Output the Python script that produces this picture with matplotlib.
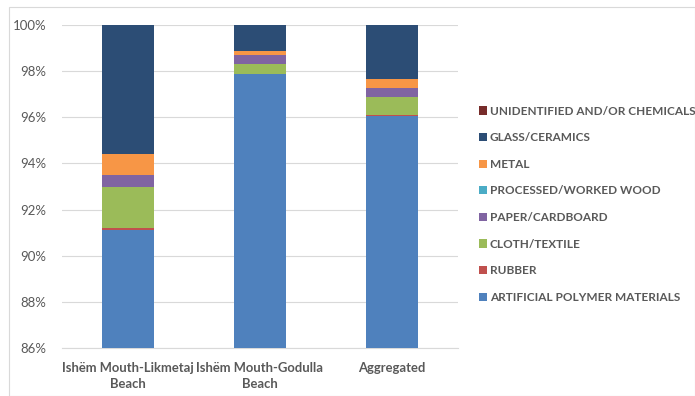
import matplotlib
matplotlib.use("Agg")
import matplotlib.pyplot as plt
from matplotlib.patches import Rectangle
from matplotlib.ticker import FuncFormatter
import numpy as np

plt.rcParams['font.family'] = ['Lato', 'DejaVu Sans']

categories = ["Ishëm Mouth-Likmetaj\nBeach", "Ishëm Mouth-Godulla\nBeach", "Aggregated"]

# Share of litter items (%) by material, bottom to top of each stack
artificial_polymer = [91.10, 97.89, 96.05]
rubber             = [0.10, 0.00, 0.03]
cloth_textile      = [1.80, 0.42, 0.81]
paper_cardboard    = [0.48, 0.38, 0.40]
processed_wood     = [0.00, 0.00, 0.00]
metal              = [0.95, 0.20, 0.37]
glass_ceramics     = [5.57, 1.11, 2.34]
unidentified       = [0.00, 0.00, 0.00]

series = [
    ("ARTIFICIAL POLYMER MATERIALS", artificial_polymer, "#4F81BD"),
    ("RUBBER", rubber, "#C0504D"),
    ("CLOTH/TEXTILE", cloth_textile, "#9BBB59"),
    ("PAPER/CARDBOARD", paper_cardboard, "#8064A2"),
    ("PROCESSED/WORKED WOOD", processed_wood, "#4BACC6"),
    ("METAL", metal, "#F79646"),
    ("GLASS/CERAMICS", glass_ceramics, "#2C4D75"),
    ("UNIDENTIFIED AND/OR CHEMICALS", unidentified, "#772C2A"),
]

fig = plt.figure(figsize=(6.95, 3.96), dpi=100)
ax = fig.add_axes([62/695, 1 - 348/396, 396/695, 323/396])

x = np.arange(len(categories))
bottom = np.zeros(len(categories))
handles = []
for name, vals, color in series:
    vals = np.array(vals)
    b = ax.bar(x, vals, 0.40, bottom=bottom, color=color, label=name, zorder=3)
    handles.append(b)
    bottom += vals

ax.set_ylim(86, 100)
ax.set_xlim(-0.5, 2.5)
ax.set_yticks(np.arange(86, 101, 2))
ax.yaxis.set_major_formatter(FuncFormatter(lambda v, p: f"{v:.0f}%"))
ax.grid(axis='y', color='#D9D9D9', linewidth=0.8, zorder=0)
for s in ['top', 'right', 'left']:
    ax.spines[s].set_visible(False)
ax.spines['bottom'].set_color('#D9D9D9')
ax.tick_params(axis='both', length=0, colors='#595959')
ax.tick_params(axis='y', pad=11, labelsize=9.5)
ax.tick_params(axis='x', pad=10)
ax.set_xticks(x)
ax.set_xticklabels(categories, fontweight='bold', color='#595959', fontsize=9.4, linespacing=1.45)

leg = fig.legend(handles[::-1], [s[0] for s in series][::-1],
                 loc='upper left', bbox_to_anchor=(474/695, 1 - 101/396),
                 frameon=False, fontsize=8.5, handlelength=0.7, handleheight=0.7,
                 handletextpad=0.25, labelspacing=1.32, borderaxespad=0)
for t in leg.get_texts():
    t.set_color('#595959')
    t.set_fontweight('bold')

fig.patches.append(Rectangle((9/695, 0), 1 - 9/695, 1 - 7/396, transform=fig.transFigure,
                             fill=False, edgecolor='#D9D9D9', linewidth=0.8))

fig.savefig("out.png", dpi=100)
